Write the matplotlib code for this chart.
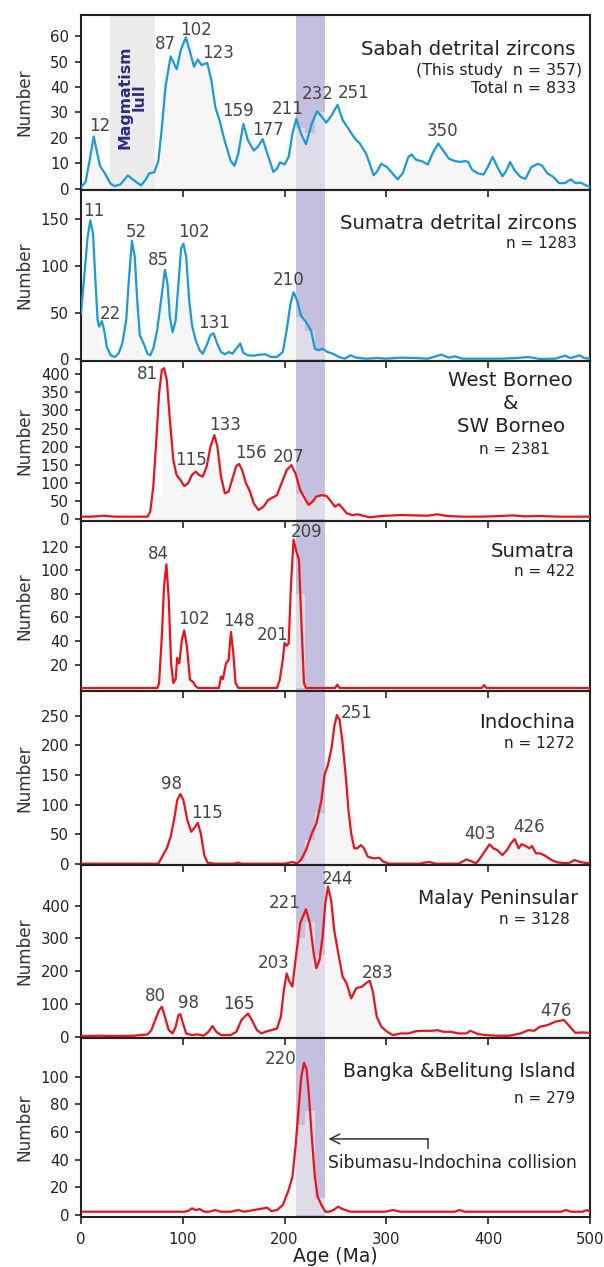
import matplotlib
matplotlib.use('Agg')
import matplotlib.pyplot as plt
import numpy as np

plt.rcParams['font.family'] = ['DejaVu Sans']

# ---------------- data ----------------
bins = list(range(0, 501, 10))

sabah_age = [0, 4.5, 8.4, 12.5, 16, 18.6, 23.5, 29, 33, 38.7, 46, 52, 59, 63.4, 67, 72, 76, 79.4, 83, 88,
             94, 98, 103, 108, 111, 114.7, 118.5, 124, 128, 132, 136, 141, 147, 150.7, 154.5, 159.5, 164,
             169.7, 173.5, 178.5, 183, 189, 192.5, 195.5, 200, 204, 207.7, 211.5, 216, 221, 226.7, 232,
             237, 241, 246.4, 252, 257, 262.7, 268.5, 274, 280, 283.6, 287.4, 290.5, 295, 300.7, 306, 311,
             316, 321.6, 324.7, 329, 335, 340.6, 346, 351, 355.8, 361.5, 367, 373, 376.7, 380.5, 384, 390,
             395.6, 399.5, 404.4, 409, 414, 417.7, 421.5, 426, 431.7, 436.6, 442.3, 448.8, 452.6, 458.3,
             464, 469.7, 475.4, 481, 485.6, 490.6, 496.3, 500]
sabah_n = [0.6, 2.6, 11, 20.5, 13.8, 9, 6, 2, 1, 1.7, 5.2, 3.3, 1.3, 3.5, 6, 6.5, 11, 24, 40, 52,
           47, 54.5, 59.5, 52.5, 48, 50.8, 48.6, 49.5, 42.7, 32, 27, 19, 11, 9, 13.8, 25.5, 19,
           15, 16.4, 19.5, 13.8, 6.6, 7.9, 10.4, 9.5, 12.5, 21.7, 27.5, 21.7, 17.5, 25.6, 30.5,
           28, 26, 29, 33, 27, 23.6, 20, 17.7, 13.8, 9.8, 5.3, 6.6, 9.8, 8.5, 6, 3.7,
           6, 12.5, 13.5, 11.4, 10.8, 9.5, 14.4, 17.8, 15, 11.8, 10.9, 10.5, 10.9, 10.5, 7.5, 6,
           5.6, 8.5, 12.5, 8.5, 4.9, 7, 10.5, 7.2, 4.6, 3.9, 8.5, 9.8, 9.2, 6,
           4.6, 2.2, 2.2, 3.7, 2.2, 2.4, 1.3, 0.7]
sabah_hist = [2, 30, 6, 1, 4, 2, 3, 8, 48, 52, 58, 50, 47, 30, 12, 22, 20, 17, 12, 9,
              18, 24, 22, 30, 27, 31, 22, 16, 8, 9, 6, 5, 12, 10, 13, 16, 11, 10, 7, 6,
              11, 6, 8, 4, 9, 7, 4, 2, 3, 1]
sabah_peaks = ['12', '87', '102', '123', '159', '177', '211', '232', '251', '350']

sumd_age = [0, 3.4, 6.5, 9.1, 11.8, 14, 16.3, 17.8, 20.5, 22.8, 25.4, 29.2, 33, 36.8, 40.6, 44.4, 47, 50,
            52.8, 55, 57.7, 61.5, 65.3, 68, 71, 74.8, 78.6, 82.4, 85, 87.3, 90, 93, 95.7, 98.3, 100.6,
            103.3, 106.3, 109, 112.8, 116.6, 119.6, 123.4, 127.2, 130.2, 133.7, 137.5, 141.3, 145, 148.8,
            152.6, 156.4, 159.5, 164, 169.7, 175.4, 181, 186.8, 192.5, 198.2, 202, 205.8, 208.8, 212.3,
            216, 221, 226, 229.7, 233.5, 237.3, 241.9, 247.6, 253.3, 259, 264.7, 270.4, 279.8, 291.2,
            298.8, 314, 329.2, 340.6, 353.9, 361.5, 367.2, 374.8, 393.7, 412.7, 427.9, 439.3, 450.7,
            465.9, 475.4, 481, 489.8, 494.4, 500]
sumd_n = [49, 92, 131, 149, 135, 88, 42, 35, 41, 31, 13, 4.3, 2.5, 6, 17, 42, 85, 127,
          110, 67, 26, 17, 6, 4.3, 11.5, 31, 63, 96, 81, 45, 29, 42, 81, 119, 124,
          110, 63, 36.5, 20, 9.7, 6, 15, 26, 28, 17, 7.9, 5.4, 7.9, 6,
          11.5, 17, 6.8, 4.3, 3.9, 5, 5.4, 2.5, 2.5, 7.9, 31, 60, 72, 63,
          47, 40, 31, 11.5, 9.7, 11.5, 7.9, 6, 2.5, 0.7, 4.3, 1.8, 0.7, 1.4,
          0.7, 1.8, 1.4, 0.7, 5, 1.8, 3.2, 0.7, 0.7, 0.7, 1.4, 2.5, 0.4,
          0.7, 3.9, 1.4, 4.3, 1.4, 0.7]
sumd_hist = [50, 45, 12, 3, 40, 60, 5, 28, 70, 60, 70, 10, 18, 12, 6, 12, 3, 4, 2, 3,
             50, 45, 30, 9, 6, 2, 2, 1, 1, 1, 1, 1, 1, 1, 1, 3, 1, 1, 0, 0,
             1, 0, 1, 1, 0, 0, 1, 2, 2, 1]
sumd_peaks = ['11', '22', '52', '85', '102', '131', '210']

wb_age = [0, 10, 21.6, 33, 48, 65.3, 68, 71, 74, 76.7, 79.4, 81.6, 84.3, 87.3, 90.7, 93.8, 97.6, 101.4,
          105.2, 109, 112.8, 115.8, 119.6, 123.4, 127.2, 131, 134, 137.5, 141.3, 145, 148.8, 152.6, 155.3,
          158.3, 162, 166, 169.7, 174.3, 179.2, 183.8, 188.7, 192.5, 197, 202, 206.6, 210.7, 215.3, 219.8,
          223.6, 227.4, 231.2, 236.2, 241.1, 245.7, 249.5, 253.3, 257, 260.9, 266.5, 272.2, 278, 283.6,
          295, 314, 329.2, 340.6, 350, 359.6, 374.8, 393.7, 412.7, 424.1, 435.5, 450.7, 469.7, 488.7, 500]
wb_n = [6.5, 6.5, 9, 6.5, 6.5, 6.5, 20, 89, 218, 347, 412, 417, 384, 274, 163, 122, 108, 91,
        99, 122, 131, 122, 117, 145, 200, 232, 200, 117, 71, 76, 112, 147, 152,
        135, 99, 76, 43, 25, 34, 52.5, 60, 66, 99, 135, 149, 126, 80, 57,
        39, 48, 62, 66, 64, 48, 34, 41, 29.5, 16, 11, 13, 8.3, 4.6,
        8.3, 11, 10, 9.2, 13, 8.3, 6.5, 6.5, 8.3, 10, 7.4, 8.3, 6.5, 6.5, 6.5]
wb_hist = [6, 6, 6, 6, 6, 6, 6, 60, 330, 130, 100, 110, 150, 170, 80, 120, 80, 30, 55, 80,
           120, 70, 45, 60, 40, 20, 10, 8, 5, 7, 10, 10, 10, 10, 10, 9, 7, 7, 7, 7,
           8, 9, 8, 8, 8, 7, 7, 7, 7, 7]
wb_peaks = ['81', '115', '133', '156', '207']

sum_age = [0, 75, 76.7, 79.4, 81.6, 83.9, 86.2, 88.5, 90.7, 93, 94.5, 96.5, 99.1, 101.4, 104, 107, 110,
           112.8, 115, 135.5, 137.5, 139.4, 142.4, 145, 147.3, 149.6, 151.8, 154.5, 192.5, 195.2, 198.2,
           200, 202, 204, 206.2, 208.8, 211.5, 214.1, 216.4, 219, 221, 249.5, 251.7, 254, 393.7, 396,
           398.3, 500]
sum_n = [0.2, 0.2, 4.4, 44, 86.6, 105, 75, 21, 4.4, 7.8, 25.7, 21, 41, 49, 35.6, 7.3, 5.3,
         1.6, 0.2, 0.2, 10, 7.8, 21, 24, 47.7, 30, 4.4, 0.2, 0.2, 7, 24,
         38.4, 36, 38, 86.6, 126, 116, 109, 58, 4.4, 0.2, 0.2, 3, 0.2, 0.2, 2.7,
         0.2, 0.2]
sum_hist = [0, 0, 0, 0, 0, 0, 0, 10, 70, 20, 30, 2, 0, 5, 30, 2, 0, 0, 0, 15,
            60, 80, 0, 0, 0, 1, 0, 0, 0, 0, 0, 0, 0, 0, 0, 0, 0, 0, 0, 1,
            0, 0, 0, 0, 0, 0, 0, 0, 0, 0]
sum_peaks = ['84', '102', '148', '201', '209']

indo_age = [0, 76, 80.5, 84.3, 88.1, 91.9, 94.5, 97.6, 100.6, 104.4, 108.2, 111.2, 114.7, 117.7, 121.1,
            124.2, 131.8, 150, 154.5, 158, 200, 207.7, 212.3, 216, 221, 226.7, 231.2, 236.2, 239.2, 242.6,
            246.4, 248.7, 251.4, 254, 257, 260.1, 262.7, 265.4, 268.4, 271.5, 274.9, 277.9, 281.7, 287.4,
            293.1, 296.9, 302.6, 333, 336.8, 342.5, 348.2, 371, 378.6, 384.3, 388, 391.9, 397.5, 401.3,
            405.1, 408.9, 413.9, 418.4, 422.2, 426, 429.8, 432.8, 436.6, 440.4, 443, 446.9, 450.7, 456.4,
            462.1, 467.8, 473.5, 479.2, 484.9, 490.6, 496.3, 500]
indo_n = [0, 0, 14.6, 26, 45.6, 79, 107.5, 117.7, 107.5, 74, 54, 60, 69, 51, 14.6,
          1.7, 0, 0, 1.7, 0, 0, 2.8, 0.6, 6.2, 23, 51, 68, 107.5, 150, 167,
          198, 231, 251, 243, 203, 147, 90.6, 51, 26, 26, 31.5, 26, 11.8, 9,
          10, 3.4, 0, 0, 1.7, 2.8, 0, 0, 7.3, 3.4, 0.5, 9, 23, 32.7,
          26, 23, 14.6, 23, 34, 41.7, 26, 33, 30, 26, 30, 17.5, 17.5, 13,
          6.2, 2.3, 1.1, 1.1, 6.2, 2.8, 1.1, 0.6]
indo_hist = [0, 0, 0, 0, 0, 0, 0, 0, 25, 100, 70, 55, 5, 0, 0, 0, 0, 0, 0, 0,
             0, 5, 40, 85, 180, 220, 80, 25, 10, 6, 0, 0, 0, 0, 0, 0, 0, 5, 4, 18,
             25, 15, 35, 25, 20, 12, 4, 1, 4, 1]
indo_peaks = ['98', '115', '251', '403', '426']

malay_age = [0, 17.8, 33, 52, 65.3, 69.1, 72.9, 76.7, 79.4, 82.4, 86.2, 90, 93, 95.7, 97.6, 100.2, 103.3,
             109, 114.7, 120.4, 125.3, 129.1, 132.9, 137.5, 147, 152.6, 157.6, 164, 167.8, 172.8, 177.3,
             181.1, 186.8, 192.5, 196.3, 199.3, 202, 204.7, 207.7, 210.7, 215.3, 221, 224.8, 228.6, 231.2,
             234.3, 237.3, 240, 242.6, 245.7, 248.7, 253.3, 257, 260.9, 265.4, 270.4, 276.1, 279.8, 283.6,
             286.7, 290.5, 295, 300.7, 306.4, 314, 321.6, 329.2, 336.8, 344.4, 350.1, 355.8, 363.4, 371,
             378.6, 382.4, 390, 397.6, 409, 420.4, 431.8, 439.4, 445.1, 450.7, 458.3, 465.9, 474.3, 480.3,
             485.6, 492.5, 500]
malay_n = [2, 3, 2, 3, 7, 20, 51, 81, 91.6, 61, 20, 10, 30.5, 66, 69, 40.7, 10,
           5, 7, 3, 15, 32.6, 15, 5, 5, 15, 51, 71, 51, 20, 10,
           15, 20, 25, 61, 142.5, 193, 168, 153, 234, 346, 389, 346, 254, 209,
           234, 305, 407, 458, 417, 326, 244, 183, 163, 117, 148, 153, 163, 171,
           137, 61, 30.5, 15, 5, 10, 10, 17, 18, 18, 20, 15, 15, 10,
           10, 18, 8, 5, 3, 3, 10, 20, 18, 30.5, 35.6, 45.8, 51, 30.5,
           12, 13, 12]
malay_hist = [2, 2, 2, 2, 2, 2, 5, 60, 50, 45, 10, 5, 20, 8, 5, 35, 55, 12, 18, 90,
              160, 300, 350, 250, 380, 200, 140, 150, 140, 30, 8, 8, 10, 15, 16, 16, 13, 10, 12, 6,
              3, 3, 5, 12, 20, 30, 40, 42, 15, 10]
malay_peaks = ['80', '98', '165', '203', '221', '244', '283', '476']

bb_age = [0, 101.4, 105.2, 109, 112.8, 116.6, 121.1, 126, 131.8, 137.5, 147, 154.5, 160.2, 169.7, 177.3,
          183, 186.8, 192.5, 198.2, 203.9, 207.7, 210.7, 213.4, 216.4, 219.1, 221.7, 224, 226.7, 229.7,
          232.4, 236.2, 240, 243.8, 248, 252.5, 257, 264.7, 298.8, 306.4, 314, 367.2, 371.7, 376.7,
          471.6, 476.5, 481.1, 492.5, 497, 500]
bb_n = [2.4, 2.4, 3, 4.8, 3.6, 4.3, 2.4, 2.4, 3.6, 2.4, 2.4, 3.6, 2.4, 3.6, 4.6,
        5.3, 2.9, 3.6, 7.2, 18, 27.7, 49, 73.5, 100, 110, 105, 85.5, 56.6, 27.7,
        13.3, 7.2, 2.4, 2.4, 3.6, 6, 4.3, 2.4, 2.4, 3.6, 2.4, 2.4, 3.6, 2.4,
        2.4, 3.6, 2.4, 2.4, 3.6, 2.4]
bb_hist = [1, 1, 1, 1, 1, 1, 1, 1, 1, 1, 2, 3, 2, 2, 2, 2, 2, 2, 3, 3,
           15, 65, 75, 12, 2, 3, 1, 1, 1, 1, 1, 1, 1, 1, 1, 1, 1, 2, 1, 1,
           1, 1, 1, 1, 1, 1, 1, 2, 1, 1]
bb_peaks = ['220']

collision_band = (211, 240)
lull_band = (28.5, 73)

# ---------------- layout / style ----------------
BLUE = '#1b9ad7'
RED = '#e8141c'
PURPLE = '#c4bfde'
LULL = '#ebebeb'
HIST = '#f0f0f0'

W, H = 604, 1267
L, R = 81, 590
T1, T2, TN = 14.2, 11.3, 11.0   # title / subtitle / n= font sizes

panels = [
    dict(age=sabah_age, n=sabah_n, hist=sabah_hist, color=BLUE, top=15, bot=190,
         ylim=(-0.5, 68.3), yticks=[0, 10, 20, 30, 40, 50, 60], peaks=sabah_peaks,
         ppos=[(18.6, 24.5), (82.4, 56.8), (112.8, 62.4), (134.8, 53.2), (153.8, 30.5),
               (183.8, 23.2), (203, 31.2), (232.4, 37.4), (267.7, 37.7), (355, 22.7)],
         titles=[('Sabah detrital zircons', 485.6, 54.9, 'right', T1),
                 ('(This study  n = 357)', 492.5, 46.6, 'right', T2),
                 ('Total n = 833', 486.8, 39.4, 'right', T2)]),
    dict(age=sumd_age, n=sumd_n, hist=sumd_hist, color=BLUE, top=190, bot=361,
         ylim=(-1.8, 181.6), yticks=[0, 50, 100, 150], peaks=sumd_peaks,
         ppos=[(12.2, 159), (29.2, 49), (53.9, 137), (75.9, 106), (110.9, 137),
               (130.6, 39), (203.9, 85)],
         titles=[('Sumatra detrital zircons', 486.8, 146, 'right', T1),
                 ('n = 1283', 486.8, 124, 'right', TN)]),
    dict(age=wb_age, n=wb_n, hist=wb_hist, color=RED, top=361, bot=521,
         ylim=(-5.5, 436.8), yticks=[0, 50, 100, 150, 200, 250, 300, 350, 400], peaks=wb_peaks,
         ppos=[(65.3, 401), (107.8, 163), (142, 260), (166.7, 182), (203.9, 172)],
         titles=[('West Borneo', 422, 382, 'center', T1),
                 ('&', 422, 320, 'center', T1),
                 ('SW Borneo', 422, 257, 'center', T1),
                 ('n = 2381', 426, 191, 'center', TN)]),
    dict(age=sum_age, n=sum_n, hist=sum_hist, color=RED, top=521, bot=690.5,
         ylim=(-1.9, 141.7), yticks=[20, 40, 60, 80, 100, 120], peaks=sum_peaks,
         ppos=[(75.9, 113.5), (110.9, 59), (155.3, 56.8), (188, 45), (221.7, 132.5)],
         titles=[('Sumatra', 484.9, 115.7, 'right', T1),
                 ('n = 422', 484.9, 99.3, 'right', TN)]),
    dict(age=indo_age, n=indo_n, hist=indo_hist, color=RED, top=690.5, bot=865,
         ylim=(-2.2, 292.6), yticks=[0, 50, 100, 150, 200, 250], peaks=indo_peaks,
         ppos=[(88.8, 134.6), (124.2, 85), (270.4, 254), (391.9, 50), (440.4, 61.4)],
         titles=[('Indochina', 484.9, 238, 'right', T1),
                 ('n = 1272', 484.9, 203, 'right', TN)]),
    dict(age=malay_age, n=malay_n, hist=malay_hist, color=RED, top=865, bot=1037.5,
         ylim=(-2.4, 524), yticks=[0, 100, 200, 300, 400], peaks=malay_peaks,
         ppos=[(72.9, 124), (105.2, 102), (155.3, 99), (189.5, 226), (200.1, 407),
               (252.5, 481), (291.2, 193), (467, 78)],
         titles=[('Malay Peninsular', 488.7, 422, 'right', 13.6),
                 ('n = 3128', 480.3, 359, 'right', TN)]),
    dict(age=bb_age, n=bb_n, hist=bb_hist, color=RED, top=1037.5, bot=1216.7,
         ylim=(-1.2, 128.3), yticks=[0, 20, 40, 60, 80, 100], peaks=bb_peaks,
         ppos=[(196.3, 112.5)],
         titles=[('Bangka &Belitung Island', 485.6, 103.6, 'right', 13.6),
                 ('n = 279', 485.6, 84.3, 'right', TN)]),
]

fig = plt.figure(figsize=(W / 100, H / 100), dpi=100)
axes = []
for i, p in enumerate(panels):
    ax = fig.add_axes([L / W, 1 - p['bot'] / H, (R - L) / W, (p['bot'] - p['top']) / H])
    ax.set_facecolor('none')
    ax.set_xlim(0, 500)
    ax.set_ylim(*p['ylim'])
    ax.axvspan(*collision_band, color=PURPLE, lw=0, zorder=1)
    if i == 0:
        ax.axvspan(*lull_band, color=LULL, lw=0, zorder=1)
    ax.bar(bins[:-1], p['hist'], width=10, align='edge', color=HIST, alpha=0.6, lw=0, zorder=2)
    ax.plot(p['age'], p['n'], color=p['color'], lw=1.6, zorder=4,
            solid_joinstyle='round', solid_capstyle='round')
    for lab, (x, y) in zip(p['peaks'], p['ppos']):
        ax.text(x, y, lab, ha='center', va='center', fontsize=12, color='#444444', zorder=5)
    for t, x, y, ha, fs in p['titles']:
        ax.text(x, y, t, ha=ha, va='center', fontsize=fs, color='#222222', zorder=5)
    ax.set_yticks(p['yticks'])
    ax.set_xticks(range(0, 501, 100))
    ax.tick_params(direction='out', width=1.2, labelsize=10.7, colors='#222222')
    ax.tick_params(axis='y', length=4, pad=4.5)
    ax.tick_params(axis='x', length=5, pad=6)
    if i < len(panels) - 1:
        ax.tick_params(labelbottom=False)
    for s in ax.spines.values():
        s.set_linewidth(1.5)
        s.set_color('#222222')
    ax.set_ylabel('Number', fontsize=12.2, color='#333333')
    ax.yaxis.set_label_coords(-0.094, 0.5)
    axes.append(ax)

# Magmatism lull label
axes[0].text(50, 36, 'Magmatism\nlull', rotation=90, ha='center', va='center', fontsize=11.3,
             fontweight='bold', color='#2b2b80', linespacing=0.95, zorder=5)

# Collision arrow
axb = axes[-1]
axb.plot([340.6, 340.6], [48.2, 55], color='#333333', lw=1.1, zorder=5)
axb.annotate('', xy=(243, 55), xytext=(341.1, 55),
             arrowprops=dict(arrowstyle='->,head_length=0.7,head_width=0.35', lw=1.1,
                             color='#333333', shrinkA=0, shrinkB=0), zorder=5)
axb.text(243, 37.8, 'Sibumasu-Indochina collision', ha='left', va='center', fontsize=12.3,
         color='#222222', zorder=5)

axb.set_xlabel('Age (Ma)', fontsize=13.5, color='#222222', labelpad=0)

fig.savefig('out.png', dpi=100)
